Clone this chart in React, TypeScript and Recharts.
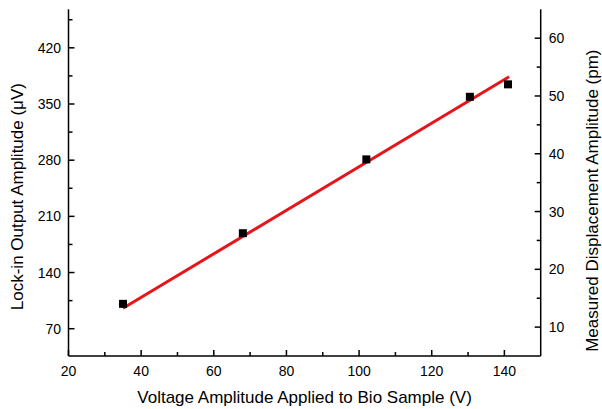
import React from "react";
import { ComposedChart, Scatter, XAxis, YAxis } from "recharts";

// Measured points (x: voltage amplitude V, y: lock-in output µV)
const voltage = [35, 68, 102, 130.5, 141];
const lockIn = [101, 189, 281, 359, 374.5];
// Linear fit endpoints
const fitVoltage = [35, 141.3];
const fitLockIn = [95.5, 384];

const xMajor = [20, 40, 60, 80, 100, 120, 140];
const xMinor = [30, 50, 70, 90, 110, 130];
const yLeftMajor = [70, 140, 210, 280, 350, 420];
const yLeftMinor = [105, 175, 245, 315, 385, 455];
const yRightMajor = [10, 20, 30, 40, 50, 60];
const yRightMinor = [15, 25, 35, 45, 55];

const xTitle = "Voltage Amplitude Applied to Bio Sample (V)";
const yLeftTitle = "Lock-in Output Amplitude (\u03bcV)";
const yRightTitle = "Measured Displacement Amplitude (pm)";

const points = voltage.map((v, i) => ({ x: v, y: lockIn[i] }));
const fit = fitVoltage.map((v, i) => ({ x: v, y: fitLockIn[i] }));

const sortNum = (a: number[]) => [...a].sort((p, q) => p - q);
const xTicks = sortNum([...xMajor, ...xMinor]);
const yLeftTicks = sortNum([...yLeftMajor, ...yLeftMinor]);
const yRightTicks = sortNum([...yRightMajor, ...yRightMinor]);

const INK = "#000";
const AXW = 1.5;
const FS = 14;
const TFS = 17;
const MAJ = 6;
const MIN = 4;
const FONT = "'Liberation Sans', Arial, sans-serif";

const BottomTick = (p: any) => {
  const { x, y, payload } = p;
  const major = xMajor.includes(payload.value);
  return (
    <g>
      <line x1={x} x2={x} y1={y} y2={y - (major ? MAJ : MIN)} stroke={INK} strokeWidth={AXW} />
      {major && (
        <text x={x} y={y + 20} textAnchor="middle" fontSize={FS} fill={INK} fontFamily={FONT}>
          {payload.value}
        </text>
      )}
    </g>
  );
};

const TopTick = (p: any) => {
  const { x, y, payload } = p;
  const major = xMajor.includes(payload.value);
  return <line x1={x} x2={x} y1={y} y2={y + (major ? MAJ : MIN)} stroke={INK} strokeWidth={AXW} />;
};

const LeftTick = (p: any) => {
  const { x, y, payload } = p;
  const major = yLeftMajor.includes(payload.value);
  return (
    <g>
      <line x1={x} x2={x + (major ? MAJ : MIN)} y1={y} y2={y} stroke={INK} strokeWidth={AXW} />
      {major && (
        <text x={x - 7.5} y={y} dy="0.355em" textAnchor="end" fontSize={FS} fill={INK} fontFamily={FONT}>
          {payload.value}
        </text>
      )}
    </g>
  );
};

const RightTick = (p: any) => {
  const { x, y, payload } = p;
  const major = yRightMajor.includes(payload.value);
  return (
    <g>
      <line x1={x} x2={x - (major ? MAJ : MIN)} y1={y} y2={y} stroke={INK} strokeWidth={AXW} />
      {major && (
        <text x={x + 8} y={y} dy="0.355em" textAnchor="start" fontSize={FS} fill={INK} fontFamily={FONT}>
          {payload.value}
        </text>
      )}
    </g>
  );
};

const XTitle = (p: any) => {
  const vb = p.viewBox;
  return (
    <text x={vb.x + vb.width / 2} y={vb.y + 47} textAnchor="middle" fontSize={TFS} fill={INK} fontFamily={FONT}>
      {xTitle}
    </text>
  );
};

const LeftTitle = (p: any) => {
  const vb = p.viewBox;
  const cx = vb.x + 23;
  const cy = vb.y + vb.height / 2 + 14;
  return (
    <text x={cx} y={cy} transform={`rotate(-90 ${cx} ${cy})`} textAnchor="middle" fontSize={TFS} fill={INK} fontFamily={FONT}>
      {yLeftTitle}
    </text>
  );
};

const RightTitle = (p: any) => {
  const vb = p.viewBox;
  const cx = vb.x + 57.5;
  const cy = vb.y + vb.height / 2 + 18;
  return (
    <text x={cx} y={cy} transform={`rotate(-90 ${cx} ${cy})`} textAnchor="middle" fontSize={TFS} fill={INK} fontFamily={FONT}>
      {yRightTitle}
    </text>
  );
};

const Square = (p: any) => {
  const { cx, cy } = p;
  return <rect x={cx - 4} y={cy - 4} width={8} height={8} fill="#000" />;
};

const NoShape = () => <g />;

export default function App() {
  return (
    <div
      style={{
        position: "fixed",
        left: 0,
        top: 0,
        width: 602,
        height: 409,
        overflow: "hidden",
        background: "#fff",
        fontFamily: FONT,
      }}
    >
      <ComposedChart
        width={602}
        height={409}
        margin={{ top: 9.3, right: 0, bottom: 0, left: 0 }}
        style={{ fontFamily: FONT, display: "block" }}
      >
        <XAxis
          xAxisId="b"
          dataKey="x"
          type="number"
          domain={[20, 150]}
          ticks={xTicks}
          interval={0}
          allowDataOverflow
          orientation="bottom"
          height={53}
          tickSize={0}
          tickMargin={0}
          tickLine={false}
          tick={<BottomTick />}
          axisLine={{ stroke: INK, strokeWidth: AXW }}
          label={<XTitle />}
        />
        <XAxis
          xAxisId="t"
          dataKey="x"
          type="number"
          domain={[20, 150]}
          ticks={xTicks}
          interval={0}
          allowDataOverflow
          orientation="top"
          height={0}
          tickSize={0}
          tickMargin={0}
          tickLine={false}
          tick={<TopTick />}
          axisLine={{ stroke: INK, strokeWidth: AXW }}
        />
        <YAxis
          yAxisId="l"
          dataKey="y"
          type="number"
          domain={[36, 468]}
          ticks={yLeftTicks}
          interval={0}
          allowDataOverflow
          orientation="left"
          width={68.5}
          tickSize={0}
          tickMargin={0}
          tickLine={false}
          tick={<LeftTick />}
          axisLine={{ stroke: INK, strokeWidth: AXW }}
          label={<LeftTitle />}
        />
        <YAxis
          yAxisId="r"
          type="number"
          domain={[5, 65]}
          ticks={yRightTicks}
          interval={0}
          allowDataOverflow
          orientation="right"
          width={61.3}
          tickSize={0}
          tickMargin={0}
          tickLine={false}
          tick={<RightTick />}
          axisLine={{ stroke: INK, strokeWidth: AXW }}
          label={<RightTitle />}
        />
        <Scatter
          xAxisId="b"
          yAxisId="l"
          data={fit}
          line={{ stroke: "#e8141b", strokeWidth: 3 }}
          shape={<NoShape />}
          isAnimationActive={false}
        />
        <Scatter
          xAxisId="b"
          yAxisId="l"
          data={points}
          shape={<Square />}
          isAnimationActive={false}
        />
        <Scatter xAxisId="t" yAxisId="r" data={[]} shape={<NoShape />} isAnimationActive={false} />
      </ComposedChart>
    </div>
  );
}
